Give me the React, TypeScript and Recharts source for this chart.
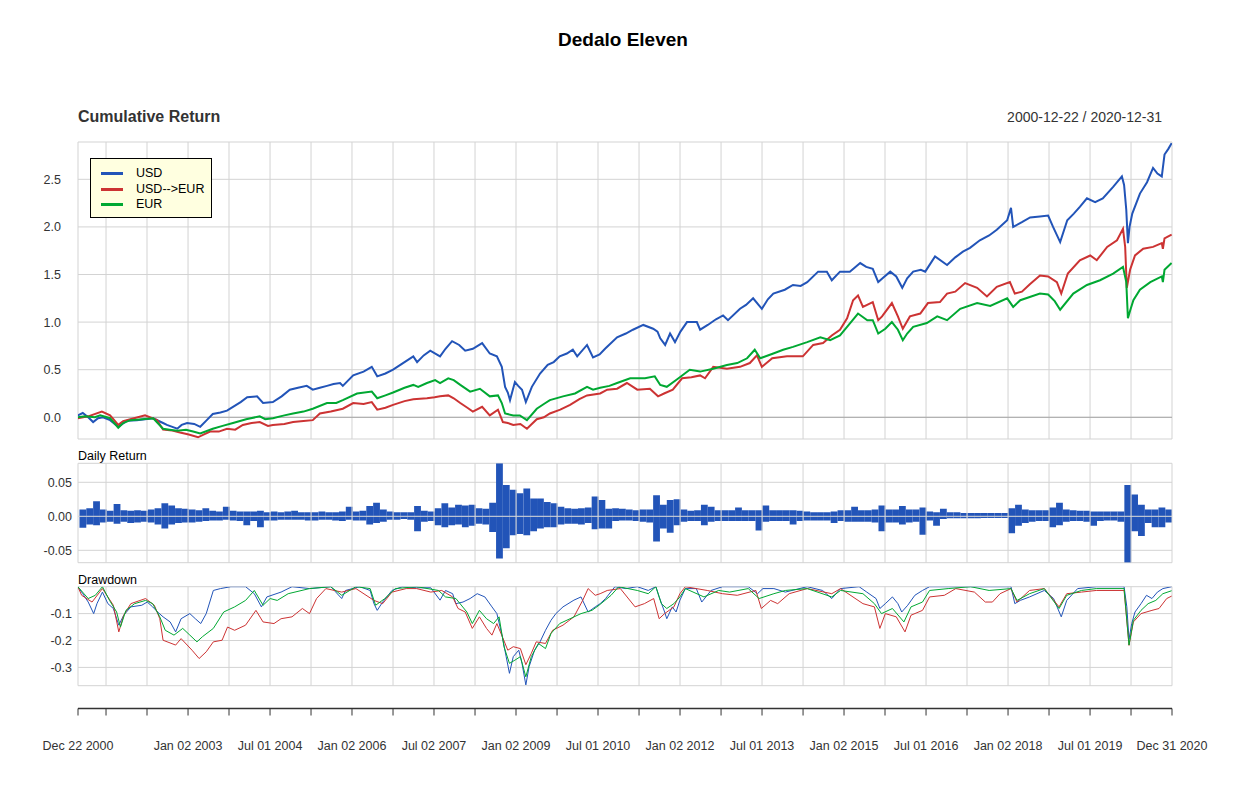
import React from 'react';
import { LineChart, Line, XAxis, YAxis, CartesianGrid, ReferenceLine, BarChart, Bar } from 'recharts';

const FONT = '"Liberation Sans", Arial, Helvetica, sans-serif';
const BLUE = '#2254b8';
const RED = '#cc3333';
const GREEN = '#00a832';
const GRID = '#d3d3d3';
const W = 1250;
const H = 796;

const chartTitle = 'Dedalo Eleven';
const periodLabel = '2000-12-22 / 2020-12-31';
const seriesNames = ['USD', 'USD-->EUR', 'EUR'];
const seriesColors = [BLUE, RED, GREEN];

const xDomain: [number, number] = [2000.973, 2020.997];
const xTickValues = [2000.973, 2001.486, 2002.236, 2002.987, 2003.737, 2004.488, 2005.238, 2005.988, 2006.739, 2007.489,
  2008.24, 2008.99, 2009.741, 2010.491, 2011.242, 2011.992, 2012.743, 2013.493, 2014.244, 2014.994,
  2015.744, 2016.495, 2017.245, 2017.996, 2018.746, 2019.497, 2020.247, 2020.997];
const xTickLabels = ['Dec 22 2000', '', '', 'Jan 02 2003', '', 'Jul 01 2004', '', 'Jan 02 2006', '', 'Jul 02 2007',
  '', 'Jan 02 2009', '', 'Jul 01 2010', '', 'Jan 02 2012', '', 'Jul 01 2013', '', 'Jan 02 2015',
  '', 'Jul 01 2016', '', 'Jan 02 2018', '', 'Jul 01 2019', '', 'Dec 31 2020'];

const cumulativeTicks = [0, 0.5, 1, 1.5, 2, 2.5];
const dailyTicks = [-0.05, 0, 0.05];
const drawdownTicks = [-0.3, -0.2, -0.1];

// Cumulative return: [decimal year, value]
const usdCumulative: [number, number][] = [
  [2000.97, 0.02], [2001.06, 0.045], [2001.16, 0.0], [2001.25, -0.05], [2001.34, -0.01], [2001.43, 0.0], [2001.56, -0.03],
  [2001.71, -0.10], [2001.87, -0.035], [2002.05, -0.03], [2002.2, -0.02], [2002.35, -0.01], [2002.53, -0.06], [2002.6, -0.08],
  [2002.7, -0.10], [2002.79, -0.12], [2002.87, -0.08], [2002.97, -0.06], [2003.1, -0.07], [2003.21, -0.10], [2003.33, -0.03],
  [2003.44, 0.035], [2003.58, 0.05], [2003.7, 0.07], [2003.81, 0.11], [2003.95, 0.16], [2004.07, 0.21], [2004.25, 0.22],
  [2004.36, 0.15], [2004.54, 0.16], [2004.7, 0.22], [2004.85, 0.29], [2005.0, 0.31], [2005.16, 0.33], [2005.27, 0.29],
  [2005.4, 0.31], [2005.53, 0.33], [2005.65, 0.35], [2005.77, 0.36], [2005.82, 0.33], [2006.01, 0.44], [2006.2, 0.48],
  [2006.35, 0.53], [2006.45, 0.43], [2006.6, 0.46], [2006.74, 0.50], [2006.95, 0.58], [2007.11, 0.64], [2007.18, 0.58],
  [2007.3, 0.65], [2007.42, 0.70], [2007.6, 0.64], [2007.7, 0.72], [2007.82, 0.80], [2007.95, 0.76], [2008.06, 0.70],
  [2008.2, 0.72], [2008.37, 0.78], [2008.51, 0.67], [2008.64, 0.64], [2008.73, 0.53], [2008.79, 0.32], [2008.84, 0.26],
  [2008.88, 0.18], [2008.97, 0.37], [2009.03, 0.33], [2009.1, 0.29], [2009.17, 0.16], [2009.28, 0.32], [2009.43, 0.46],
  [2009.57, 0.55], [2009.68, 0.58], [2009.79, 0.64], [2009.92, 0.67], [2010.03, 0.71], [2010.11, 0.64], [2010.29, 0.76],
  [2010.4, 0.63], [2010.52, 0.66], [2010.62, 0.72], [2010.84, 0.84], [2011.0, 0.88], [2011.13, 0.92], [2011.32, 0.97],
  [2011.5, 0.93], [2011.58, 0.90], [2011.63, 0.83], [2011.72, 0.76], [2011.81, 0.88], [2011.9, 0.79], [2012.0, 0.90],
  [2012.12, 1.00], [2012.3, 1.00], [2012.36, 0.92], [2012.5, 0.97], [2012.65, 1.03], [2012.78, 1.07], [2012.87, 1.02],
  [2013.09, 1.14], [2013.2, 1.18], [2013.33, 1.25], [2013.49, 1.14], [2013.6, 1.24], [2013.7, 1.30], [2013.91, 1.34],
  [2014.06, 1.39], [2014.2, 1.38], [2014.32, 1.42], [2014.52, 1.53], [2014.68, 1.53], [2014.77, 1.44], [2014.92, 1.53],
  [2015.1, 1.53], [2015.29, 1.62], [2015.4, 1.58], [2015.52, 1.56], [2015.62, 1.42], [2015.72, 1.47], [2015.84, 1.53],
  [2015.95, 1.48], [2016.06, 1.36], [2016.15, 1.46], [2016.26, 1.53], [2016.4, 1.55], [2016.48, 1.53], [2016.66, 1.69],
  [2016.88, 1.60], [2017.03, 1.68], [2017.17, 1.74], [2017.3, 1.78], [2017.48, 1.86], [2017.65, 1.91], [2017.79, 1.97],
  [2017.98, 2.07], [2018.05, 2.20], [2018.09, 2.00], [2018.25, 2.05], [2018.4, 2.10], [2018.58, 2.11], [2018.73, 2.12],
  [2018.82, 2.00], [2018.95, 1.84], [2019.08, 2.07], [2019.2, 2.14], [2019.31, 2.21], [2019.44, 2.30], [2019.59, 2.26],
  [2019.73, 2.30], [2019.92, 2.42], [2020.08, 2.53], [2020.12, 2.44], [2020.16, 2.18], [2020.19, 1.83], [2020.22, 2.00],
  [2020.27, 2.14], [2020.41, 2.35], [2020.54, 2.47], [2020.65, 2.62], [2020.73, 2.56], [2020.81, 2.53], [2020.86, 2.76],
  [2020.93, 2.82], [2020.99, 2.88],
];

const usdEurCumulative: [number, number][] = [
  [2000.97, -0.01], [2001.16, 0.01], [2001.41, 0.06], [2001.56, 0.02], [2001.71, -0.08], [2001.8, -0.04], [2001.93, -0.02],
  [2002.2, 0.02], [2002.42, -0.03], [2002.53, -0.13], [2002.7, -0.14], [2002.84, -0.16], [2003.0, -0.18], [2003.17, -0.21],
  [2003.28, -0.18], [2003.39, -0.15], [2003.55, -0.15], [2003.7, -0.12], [2003.85, -0.13], [2003.99, -0.08], [2004.15, -0.06],
  [2004.3, -0.05], [2004.45, -0.09], [2004.54, -0.08], [2004.75, -0.07], [2004.91, -0.05], [2005.1, -0.04], [2005.27, -0.03],
  [2005.4, 0.04], [2005.6, 0.06], [2005.82, 0.09], [2006.01, 0.15], [2006.2, 0.14], [2006.35, 0.16], [2006.45, 0.08],
  [2006.6, 0.10], [2006.74, 0.13], [2006.95, 0.17], [2007.11, 0.19], [2007.36, 0.20], [2007.5, 0.21], [2007.6, 0.22],
  [2007.75, 0.23], [2007.85, 0.20], [2007.97, 0.15], [2008.1, 0.10], [2008.2, 0.06], [2008.37, 0.11], [2008.51, 0.02],
  [2008.66, 0.08], [2008.75, -0.05], [2008.84, -0.06], [2008.94, -0.08], [2009.07, -0.07], [2009.19, -0.12], [2009.37, -0.02],
  [2009.5, 0.0], [2009.61, 0.04], [2009.8, 0.08], [2009.98, 0.13], [2010.15, 0.19], [2010.29, 0.23], [2010.53, 0.25],
  [2010.66, 0.29], [2010.84, 0.30], [2011.02, 0.36], [2011.21, 0.29], [2011.44, 0.30], [2011.59, 0.22], [2011.7, 0.25],
  [2011.86, 0.29], [2012.03, 0.41], [2012.2, 0.42], [2012.36, 0.44], [2012.45, 0.41], [2012.6, 0.53], [2012.85, 0.51],
  [2013.09, 0.53], [2013.27, 0.57], [2013.4, 0.65], [2013.49, 0.53], [2013.68, 0.62], [2013.95, 0.64], [2014.24, 0.64],
  [2014.43, 0.76], [2014.61, 0.78], [2014.77, 0.86], [2014.92, 0.92], [2015.05, 1.04], [2015.16, 1.23], [2015.25, 1.28],
  [2015.34, 1.16], [2015.52, 1.21], [2015.62, 1.02], [2015.69, 1.06], [2015.87, 1.20], [2015.98, 1.06], [2016.07, 0.93],
  [2016.2, 1.06], [2016.39, 1.09], [2016.53, 1.20], [2016.75, 1.21], [2016.88, 1.30], [2017.03, 1.32], [2017.21, 1.41],
  [2017.43, 1.36], [2017.61, 1.27], [2017.79, 1.37], [2018.03, 1.42], [2018.12, 1.30], [2018.25, 1.32], [2018.4, 1.40],
  [2018.58, 1.49], [2018.73, 1.48], [2018.89, 1.42], [2018.97, 1.30], [2019.09, 1.51], [2019.31, 1.65], [2019.5, 1.70],
  [2019.62, 1.65], [2019.81, 1.79], [2019.99, 1.86], [2020.1, 1.98], [2020.14, 1.79], [2020.17, 1.36], [2020.23, 1.55],
  [2020.32, 1.70], [2020.47, 1.77], [2020.65, 1.79], [2020.81, 1.83], [2020.83, 1.77], [2020.86, 1.88], [2020.99, 1.92],
];

const eurCumulative: [number, number][] = [
  [2000.97, 0.0], [2001.1, 0.01], [2001.28, 0.0], [2001.38, 0.02], [2001.56, -0.01], [2001.71, -0.11], [2001.8, -0.06],
  [2001.93, -0.03], [2002.15, -0.02], [2002.35, -0.01], [2002.53, -0.12], [2002.65, -0.13], [2002.79, -0.14], [2002.95, -0.13],
  [2003.08, -0.15], [2003.21, -0.17], [2003.44, -0.12], [2003.62, -0.09], [2003.81, -0.06], [2004.05, -0.02], [2004.3, 0.01],
  [2004.4, -0.02], [2004.54, -0.01], [2004.75, 0.02], [2004.91, 0.04], [2005.1, 0.06], [2005.27, 0.09], [2005.53, 0.15],
  [2005.7, 0.15], [2005.82, 0.18], [2006.08, 0.25], [2006.35, 0.27], [2006.45, 0.20], [2006.6, 0.23], [2006.74, 0.26],
  [2006.95, 0.31], [2007.11, 0.34], [2007.2, 0.32], [2007.36, 0.36], [2007.51, 0.39], [2007.6, 0.36], [2007.75, 0.41],
  [2007.85, 0.39], [2007.97, 0.34], [2008.15, 0.27], [2008.33, 0.30], [2008.51, 0.22], [2008.66, 0.23], [2008.73, 0.15],
  [2008.79, 0.04], [2008.94, 0.02], [2009.06, 0.02], [2009.19, -0.03], [2009.37, 0.09], [2009.5, 0.14], [2009.61, 0.18],
  [2009.85, 0.22], [2010.07, 0.25], [2010.29, 0.32], [2010.4, 0.29], [2010.53, 0.31], [2010.7, 0.33], [2010.84, 0.36],
  [2011.08, 0.41], [2011.35, 0.41], [2011.53, 0.43], [2011.63, 0.34], [2011.75, 0.32], [2011.94, 0.40], [2012.17, 0.50],
  [2012.36, 0.48], [2012.6, 0.51], [2012.85, 0.55], [2013.04, 0.57], [2013.22, 0.62], [2013.36, 0.71], [2013.46, 0.62],
  [2013.7, 0.67], [2013.88, 0.71], [2014.06, 0.74], [2014.32, 0.79], [2014.56, 0.84], [2014.74, 0.81], [2014.92, 0.86],
  [2015.05, 0.95], [2015.25, 1.09], [2015.42, 1.02], [2015.52, 1.02], [2015.62, 0.88], [2015.75, 0.93], [2015.87, 1.00],
  [2015.98, 0.92], [2016.07, 0.81], [2016.15, 0.88], [2016.26, 0.95], [2016.51, 0.99], [2016.7, 1.06], [2016.88, 1.02],
  [2017.12, 1.14], [2017.43, 1.20], [2017.67, 1.17], [2017.98, 1.25], [2018.09, 1.16], [2018.22, 1.23], [2018.58, 1.30],
  [2018.73, 1.29], [2018.85, 1.22], [2018.95, 1.13], [2019.19, 1.30], [2019.44, 1.39], [2019.68, 1.44], [2019.92, 1.51],
  [2020.1, 1.58], [2020.16, 1.42], [2020.19, 1.04], [2020.23, 1.12], [2020.29, 1.23], [2020.41, 1.34], [2020.6, 1.42],
  [2020.81, 1.48], [2020.83, 1.42], [2020.86, 1.55], [2020.99, 1.62],
];

// Daily return (USD), envelope per 1/8-year bucket starting 2001.0
const dailyStartYear = 2001;
const dailyBucketYears = 0.125;
const dailyUp = [
  0.010, 0.012, 0.022, 0.010, 0.008, 0.018, 0.009, 0.008, // 2001
  0.009, 0.008, 0.010, 0.012, 0.019, 0.016, 0.012, 0.011, // 2002
  0.010, 0.009, 0.012, 0.008, 0.007, 0.014, 0.008, 0.007, // 2003
  0.007, 0.007, 0.008, 0.006, 0.007, 0.006, 0.007, 0.008, // 2004
  0.006, 0.006, 0.006, 0.007, 0.006, 0.006, 0.007, 0.014, // 2005
  0.007, 0.008, 0.015, 0.020, 0.010, 0.007, 0.006, 0.006, // 2006
  0.006, 0.015, 0.008, 0.007, 0.012, 0.019, 0.013, 0.017, // 2007
  0.016, 0.017, 0.012, 0.011, 0.020, 0.078, 0.046, 0.039, // 2008
  0.034, 0.041, 0.026, 0.026, 0.021, 0.019, 0.014, 0.012, // 2009
  0.011, 0.012, 0.013, 0.029, 0.024, 0.011, 0.012, 0.011, // 2010
  0.010, 0.009, 0.010, 0.010, 0.031, 0.017, 0.024, 0.025, // 2011
  0.010, 0.008, 0.009, 0.017, 0.014, 0.009, 0.009, 0.009, // 2012
  0.013, 0.009, 0.009, 0.009, 0.016, 0.009, 0.009, 0.009, // 2013
  0.009, 0.008, 0.007, 0.006, 0.006, 0.006, 0.007, 0.009, // 2014
  0.009, 0.014, 0.009, 0.009, 0.010, 0.016, 0.010, 0.010, // 2015
  0.015, 0.010, 0.010, 0.013, 0.007, 0.006, 0.011, 0.006, // 2016
  0.006, 0.005, 0.005, 0.005, 0.005, 0.005, 0.005, 0.005, // 2017
  0.012, 0.017, 0.010, 0.009, 0.009, 0.009, 0.013, 0.020, // 2018
  0.010, 0.009, 0.008, 0.008, 0.007, 0.007, 0.007, 0.007, // 2019
  0.007, 0.046, 0.032, 0.017, 0.010, 0.010, 0.013, 0.010, // 2020
];
const dailyDown = [
  -0.017, -0.012, -0.013, -0.009, -0.008, -0.011, -0.008, -0.010, // 2001
  -0.009, -0.008, -0.009, -0.012, -0.018, -0.012, -0.010, -0.009, // 2002
  -0.009, -0.008, -0.007, -0.006, -0.006, -0.005, -0.006, -0.007, // 2003
  -0.013, -0.007, -0.016, -0.006, -0.006, -0.005, -0.005, -0.005, // 2004
  -0.005, -0.006, -0.006, -0.005, -0.005, -0.006, -0.007, -0.005, // 2005
  -0.006, -0.006, -0.012, -0.010, -0.008, -0.005, -0.005, -0.004, // 2006
  -0.005, -0.022, -0.008, -0.007, -0.013, -0.016, -0.013, -0.012, // 2007
  -0.016, -0.014, -0.011, -0.012, -0.023, -0.062, -0.047, -0.028, // 2008
  -0.026, -0.028, -0.022, -0.018, -0.016, -0.016, -0.012, -0.011, // 2009
  -0.011, -0.012, -0.010, -0.019, -0.018, -0.018, -0.007, -0.006, // 2010
  -0.006, -0.007, -0.008, -0.009, -0.037, -0.018, -0.024, -0.013, // 2011
  -0.008, -0.007, -0.007, -0.013, -0.008, -0.007, -0.007, -0.007, // 2012
  -0.007, -0.007, -0.007, -0.021, -0.008, -0.007, -0.007, -0.007, // 2013
  -0.012, -0.007, -0.006, -0.006, -0.006, -0.006, -0.010, -0.007, // 2014
  -0.008, -0.008, -0.008, -0.008, -0.009, -0.022, -0.009, -0.009, // 2015
  -0.012, -0.009, -0.008, -0.027, -0.006, -0.014, -0.004, -0.003, // 2016
  -0.003, -0.003, -0.003, -0.003, -0.0025, -0.0025, -0.0025, -0.0025, // 2017
  -0.025, -0.014, -0.010, -0.008, -0.007, -0.007, -0.016, -0.013, // 2018
  -0.008, -0.007, -0.007, -0.008, -0.014, -0.007, -0.006, -0.006, // 2019
  -0.008, -0.068, -0.022, -0.029, -0.010, -0.016, -0.016, -0.009, // 2020
];

// Drawdown: [decimal year, value]
const usdDrawdown: [number, number][] = [
  [2000.97, 0], [2001.06, -0.026], [2001.16, -0.057], [2001.26, -0.10], [2001.32, -0.063], [2001.42, -0.02], [2001.52, -0.063],
  [2001.62, -0.081], [2001.72, -0.143], [2001.81, -0.106], [2001.94, -0.075], [2002.14, -0.069], [2002.24, -0.057],
  [2002.34, -0.075], [2002.43, -0.094], [2002.53, -0.112], [2002.66, -0.131], [2002.76, -0.168], [2002.86, -0.119],
  [2003.02, -0.10], [2003.12, -0.119], [2003.22, -0.137], [2003.32, -0.10], [2003.45, -0.014], [2003.58, -0.007],
  [2003.77, 0], [2004.04, 0], [2004.2, -0.026], [2004.33, -0.075], [2004.43, -0.038], [2004.69, -0.02], [2004.89, 0],
  [2005.21, -0.007], [2005.6, 0], [2005.8, -0.044], [2005.87, -0.014], [2006.13, 0], [2006.32, -0.014], [2006.39, -0.063],
  [2006.45, -0.088], [2006.55, -0.057], [2006.72, -0.014], [2006.91, 0], [2007.17, -0.004], [2007.43, -0.004],
  [2007.6, -0.05], [2007.7, -0.014], [2007.83, -0.026], [2007.89, -0.063], [2008.02, -0.057], [2008.15, -0.044],
  [2008.28, -0.026], [2008.42, -0.038], [2008.55, -0.075], [2008.64, -0.10], [2008.74, -0.186], [2008.81, -0.26],
  [2008.87, -0.322], [2008.94, -0.26], [2009.04, -0.236], [2009.1, -0.285], [2009.17, -0.365], [2009.23, -0.297],
  [2009.33, -0.236], [2009.43, -0.205], [2009.53, -0.162], [2009.63, -0.125], [2009.72, -0.10], [2009.85, -0.075],
  [2010.05, -0.05], [2010.18, -0.038], [2010.31, -0.094], [2010.44, -0.075], [2010.53, -0.063], [2010.63, -0.044],
  [2010.8, 0], [2011.0, -0.007], [2011.21, 0], [2011.41, -0.014], [2011.55, 0], [2011.61, -0.038], [2011.71, -0.094],
  [2011.75, -0.119], [2011.85, -0.075], [2011.92, -0.094], [2011.99, -0.05], [2012.09, -0.007], [2012.29, -0.007],
  [2012.39, -0.057], [2012.56, -0.014], [2012.77, 0], [2013.24, 0], [2013.41, -0.026], [2013.51, -0.007], [2013.71, -0.007],
  [2013.92, -0.02], [2014.32, 0], [2014.6, -0.014], [2014.77, -0.044], [2014.93, -0.007], [2015.27, 0], [2015.41, -0.02],
  [2015.58, -0.044], [2015.65, -0.081], [2015.75, -0.063], [2015.88, -0.038], [2015.98, -0.063], [2016.05, -0.094],
  [2016.16, -0.069], [2016.29, -0.032], [2016.43, -0.014], [2016.56, 0], [2017.0, 0], [2017.65, 0], [2018.05, 0],
  [2018.12, -0.063], [2018.22, -0.051], [2018.39, -0.038], [2018.66, -0.014], [2018.83, -0.044], [2018.97, -0.112],
  [2019.07, -0.051], [2019.27, -0.007], [2019.61, 0], [2020.12, 0], [2020.17, -0.075], [2020.21, -0.195], [2020.26, -0.137],
  [2020.32, -0.094], [2020.43, -0.063], [2020.53, -0.032], [2020.63, -0.044], [2020.73, -0.02], [2020.83, -0.007], [2020.99, 0],
];

const usdEurDrawdown: [number, number][] = [
  [2000.97, 0], [2001.04, -0.032], [2001.23, -0.057], [2001.42, -0.007], [2001.52, -0.038], [2001.62, -0.069], [2001.72, -0.168],
  [2001.81, -0.106], [2001.94, -0.063], [2002.21, -0.044], [2002.37, -0.069], [2002.47, -0.119], [2002.53, -0.199],
  [2002.76, -0.217], [2002.86, -0.193], [2003.06, -0.236], [2003.19, -0.267], [2003.32, -0.242], [2003.45, -0.205],
  [2003.61, -0.199], [2003.71, -0.15], [2003.84, -0.162], [2004.04, -0.143], [2004.23, -0.088], [2004.36, -0.131],
  [2004.56, -0.137], [2004.69, -0.119], [2004.89, -0.112], [2005.08, -0.081], [2005.21, -0.10], [2005.34, -0.044],
  [2005.51, -0.007], [2005.8, -0.02], [2006.06, -0.007], [2006.39, -0.051], [2006.55, -0.063], [2006.72, -0.02],
  [2006.98, -0.007], [2007.17, -0.007], [2007.43, -0.02], [2007.63, -0.014], [2007.83, -0.038], [2007.93, -0.081],
  [2008.06, -0.094], [2008.19, -0.155], [2008.32, -0.112], [2008.45, -0.155], [2008.55, -0.18], [2008.64, -0.137],
  [2008.74, -0.186], [2008.84, -0.236], [2008.94, -0.223], [2009.07, -0.23], [2009.17, -0.29], [2009.27, -0.248],
  [2009.36, -0.205], [2009.53, -0.211], [2009.66, -0.162], [2009.85, -0.143], [2010.05, -0.112], [2010.21, -0.051],
  [2010.31, -0.007], [2010.44, -0.032], [2010.53, -0.026], [2010.66, -0.014], [2010.9, -0.007], [2011.17, -0.075],
  [2011.34, -0.063], [2011.51, -0.044], [2011.61, -0.119], [2011.71, -0.10], [2011.88, -0.075], [2011.99, -0.026],
  [2012.09, 0], [2012.49, -0.014], [2012.77, -0.026], [2013.04, -0.032], [2013.38, -0.014], [2013.48, -0.081],
  [2013.65, -0.051], [2013.78, -0.063], [2013.99, -0.026], [2014.32, -0.007], [2014.77, -0.026], [2014.93, -0.007],
  [2015.34, -0.063], [2015.55, -0.075], [2015.65, -0.155], [2015.75, -0.10], [2015.95, -0.112], [2016.11, -0.168],
  [2016.22, -0.106], [2016.43, -0.088], [2016.56, -0.038], [2016.83, -0.032], [2017.04, -0.007], [2017.38, -0.02],
  [2017.58, -0.057], [2017.71, -0.057], [2017.85, -0.026], [2018.05, -0.007], [2018.16, -0.057], [2018.39, -0.014],
  [2018.66, -0.007], [2018.93, -0.075], [2019.07, -0.026], [2019.34, -0.02], [2019.61, -0.014], [2020.12, -0.014],
  [2020.21, -0.218], [2020.29, -0.131], [2020.43, -0.10], [2020.63, -0.088], [2020.76, -0.081], [2020.9, -0.044],
  [2020.99, -0.035],
];

const eurDrawdown: [number, number][] = [
  [2000.97, 0], [2001.16, -0.044], [2001.29, -0.032], [2001.42, 0], [2001.55, -0.051], [2001.68, -0.094], [2001.75, -0.15],
  [2001.85, -0.088], [2002.01, -0.063], [2002.21, -0.051], [2002.34, -0.063], [2002.47, -0.112], [2002.57, -0.162],
  [2002.73, -0.18], [2002.89, -0.155], [2003.02, -0.18], [2003.15, -0.205], [2003.25, -0.186], [2003.45, -0.155],
  [2003.64, -0.094], [2003.84, -0.075], [2004.04, -0.051], [2004.2, -0.014], [2004.36, -0.069], [2004.49, -0.044],
  [2004.62, -0.051], [2004.82, -0.026], [2005.21, -0.007], [2005.6, 0], [2005.8, -0.032], [2006.06, 0], [2006.32, -0.007],
  [2006.42, -0.069], [2006.59, -0.044], [2006.78, -0.007], [2007.17, 0], [2007.57, -0.014], [2007.7, -0.038],
  [2007.89, -0.044], [2008.09, -0.094], [2008.19, -0.137], [2008.32, -0.088], [2008.45, -0.119], [2008.58, -0.137],
  [2008.68, -0.112], [2008.77, -0.223], [2008.87, -0.285], [2008.97, -0.273], [2009.07, -0.26], [2009.17, -0.335],
  [2009.27, -0.26], [2009.4, -0.211], [2009.53, -0.23], [2009.63, -0.174], [2009.79, -0.137], [2009.98, -0.119],
  [2010.18, -0.10], [2010.38, -0.088], [2010.51, -0.069], [2010.73, -0.032], [2010.87, 0], [2011.21, -0.014],
  [2011.41, -0.026], [2011.55, 0], [2011.65, -0.063], [2011.75, -0.081], [2011.88, -0.063], [2011.99, -0.038],
  [2012.09, -0.007], [2012.43, -0.038], [2012.7, -0.014], [2012.9, -0.02], [2013.24, -0.007], [2013.44, -0.044],
  [2013.71, -0.026], [2013.92, -0.014], [2014.32, -0.007], [2014.77, -0.038], [2014.93, -0.014], [2015.34, -0.026],
  [2015.55, -0.063], [2015.68, -0.10], [2015.88, -0.081], [2016.09, -0.131], [2016.22, -0.075], [2016.43, -0.057],
  [2016.56, -0.014], [2016.9, -0.007], [2017.31, 0], [2017.65, -0.014], [2018.05, -0.007], [2018.16, -0.051],
  [2018.39, -0.026], [2018.66, -0.007], [2018.93, -0.081], [2019.07, -0.032], [2019.34, -0.014], [2019.61, -0.007],
  [2020.12, -0.007], [2020.21, -0.217], [2020.29, -0.125], [2020.43, -0.088], [2020.56, -0.063], [2020.7, -0.051],
  [2020.83, -0.026], [2020.99, -0.015],
];

const toPoints = (pairs: [number, number][]) => pairs.map(([x, y]) => ({ x, y }));
const cumulativeSeries = [usdCumulative, usdEurCumulative, eurCumulative].map(toPoints);
const drawdownSeries = [usdDrawdown, usdEurDrawdown, eurDrawdown].map(toPoints);
const dailyRows = dailyUp.map((u, i) => ({
  x: dailyStartYear + (i + 0.5) * dailyBucketYears,
  up: u,
  down: dailyDown[i],
}));

const PLOT_RIGHT = 1172;
const tickStyle = { fill: '#333333', fontSize: 12.5, fontFamily: FONT };
const abs: React.CSSProperties = { position: 'absolute', left: 0, top: 0 };

const hiddenXAxis = (
  <XAxis
    type="number"
    dataKey="x"
    domain={xDomain}
    ticks={xTickValues}
    allowDataOverflow
    height={0}
    tick={false}
    axisLine={false}
    tickLine={false}
    interval={0}
  />
);

const verticalGrid = xTickValues.map((v) => (
  <ReferenceLine key={`vg-${v}`} x={v} stroke={GRID} strokeWidth={1} ifOverflow="visible" />
));

export default function App() {
  return (
    <div style={{ position: 'absolute', left: 0, top: 0, width: W, height: H, background: '#ffffff', fontFamily: FONT }}>
      <div style={{ position: 'absolute', left: 0, width: 1246, top: 28, height: 24, lineHeight: '24px', textAlign: 'center', fontWeight: 'bold', fontSize: 19, color: '#000' }}>
        {chartTitle}
      </div>
      <div style={{ position: 'absolute', left: 78, top: 107, height: 20, lineHeight: '20px', fontWeight: 'bold', fontSize: 16, color: '#333333', whiteSpace: 'nowrap' }}>
        Cumulative Return
      </div>
      <div style={{ position: 'absolute', right: W - 1162, top: 107, height: 20, lineHeight: '20px', fontSize: 14, color: '#333333', whiteSpace: 'nowrap' }}>
        {periodLabel}
      </div>
      <div style={{ position: 'absolute', left: 78, top: 448, height: 17, lineHeight: '17px', fontSize: 12.5, color: '#000', whiteSpace: 'nowrap' }}>
        Daily Return
      </div>
      <div style={{ position: 'absolute', left: 78, top: 572, height: 17, lineHeight: '17px', fontSize: 12.5, color: '#000', whiteSpace: 'nowrap' }}>
        Drawdown
      </div>

      {/* Cumulative return panel */}
      <div style={abs}>
        <LineChart width={W} height={H} margin={{ top: 142, right: W - PLOT_RIGHT, bottom: H - 439, left: 0 }}>
          <CartesianGrid stroke={GRID} strokeWidth={1} vertical={false} />
          {hiddenXAxis}
          <YAxis type="number" domain={[-0.228, 2.892]} ticks={cumulativeTicks} allowDataOverflow width={78}
            axisLine={false} tickLine={false} tickSize={0} tickMargin={17} interval={0}
            tick={tickStyle} tickFormatter={(v: number) => v.toFixed(1)} />
          {verticalGrid}
          <ReferenceLine y={0} stroke="#a6a6a6" strokeWidth={1} />
          {cumulativeSeries.map((pts, i) => (
            <Line key={seriesNames[i]} data={pts} dataKey="y" name={seriesNames[i]} type="linear" stroke={seriesColors[i]}
              strokeWidth={2} dot={false} activeDot={false} isAnimationActive={false} />
          ))}
        </LineChart>
      </div>

      {/* Daily return panel */}
      <div style={abs}>
        <BarChart width={W} height={H} data={dailyRows} stackOffset="sign" barGap={0} barCategoryGap={0}
          margin={{ top: 463.3, right: W - PLOT_RIGHT, bottom: H - 562.7, left: 0 }}>
          <CartesianGrid stroke={GRID} strokeWidth={1} vertical={false} />
          {hiddenXAxis}
          <YAxis type="number" domain={[-0.0682, 0.0779]} ticks={dailyTicks} allowDataOverflow width={78}
            axisLine={false} tickLine={false} tickSize={0} tickMargin={6} interval={0}
            tick={tickStyle} tickFormatter={(v: number) => v.toFixed(2)} />
          {verticalGrid}
          <Bar dataKey="up" stackId="r" fill={BLUE} barSize={6.8} isAnimationActive={false} />
          <Bar dataKey="down" stackId="r" fill={BLUE} barSize={6.8} isAnimationActive={false} />
          <ReferenceLine y={0} stroke="#d9d9d9" strokeWidth={1} />
        </BarChart>
      </div>

      {/* Drawdown panel */}
      <div style={abs}>
        <LineChart width={W} height={H} margin={{ top: 586.7, right: W - PLOT_RIGHT, bottom: H - 685.7, left: 0 }}>
          <CartesianGrid stroke={GRID} strokeWidth={1} vertical={false} />
          {hiddenXAxis}
          <YAxis type="number" domain={[-0.368, 0]} ticks={drawdownTicks} allowDataOverflow width={78}
            axisLine={false} tickLine={false} tickSize={0} tickMargin={6} interval={0}
            tick={tickStyle} tickFormatter={(v: number) => String(v)} />
          {verticalGrid}
          {drawdownSeries.map((pts, i) => (
            <Line key={seriesNames[i]} data={pts} dataKey="y" name={seriesNames[i]} type="linear" stroke={seriesColors[i]}
              strokeWidth={1} dot={false} activeDot={false} isAnimationActive={false} />
          ))}
        </LineChart>
      </div>

      {/* Date axis */}
      <div style={abs}>
        <LineChart width={W} height={H} data={cumulativeSeries[0]} margin={{ top: 700, right: W - PLOT_RIGHT, bottom: H - 708.5 - 50, left: 78 }}>
          <XAxis type="number" dataKey="x" domain={xDomain} ticks={xTickValues} allowDataOverflow height={50} interval={0}
            tickSize={7} tickMargin={26} axisLine={{ stroke: '#333333', strokeWidth: 1.3 }} tickLine={{ stroke: '#333333' }}
            tick={tickStyle} tickFormatter={(v: number, i: number) => xTickLabels[i] ?? ''} />
          <YAxis hide domain={[0, 1]} />
        </LineChart>
      </div>

      {/* Legend */}
      <div style={{ position: 'absolute', left: 90, top: 158, width: 120, height: 58, border: '1px solid #000', background: '#ffffe0' }}>
        {seriesNames.map((name, i) => (
          <div key={name} style={{ position: 'absolute', left: 0, top: 7 + i * 15.5, height: 15, width: 118 }}>
            <div style={{ position: 'absolute', left: 10, top: 6, width: 22, height: 3, background: seriesColors[i] }} />
            <div style={{ position: 'absolute', left: 45, top: 0, height: 15, lineHeight: '15px', fontSize: 12.5, color: '#000', whiteSpace: 'nowrap' }}>
              {name}
            </div>
          </div>
        ))}
      </div>
    </div>
  );
}
